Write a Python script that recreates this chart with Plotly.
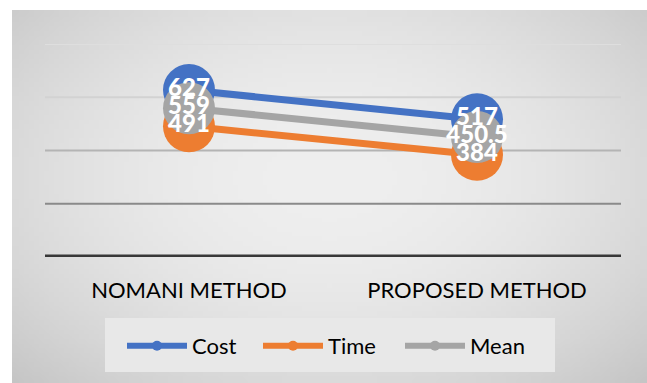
import plotly.graph_objects as go
import numpy as np
import zlib, struct, base64

categories = ["NOMANI METHOD", "PROPOSED METHOD"]
cost = [627, 517]
time_vals = [491, 384]
mean_vals = [559, 450.5]
series_names = ["Cost", "Time", "Mean"]
series_colors = ["#4472C4", "#ED7D31", "#A5A5A5"]
grid_vals = [0, 200, 400, 600, 800]
grid_colors = ["#383838", "#8a8a8a", "#b4b4b4", "#d2d2d2", "#dedede"]
grid_widths = [5, 2, 2, 2, 2]

W, H = 647, 383
ML, MT = 12, 10

def fx(px):
    return (px - ML) / (W - ML)

def fy(py):
    return (H - py) / (H - MT)

# --- radial grey gradient background as an embedded PNG ---
def make_png(arr):
    h, w = arr.shape
    raw = b"".join(b"\x00" + bytes(np.repeat(arr[r], 3).tolist()) for r in range(h))
    def chunk(t, d):
        c = struct.pack(">I", len(d)) + t + d
        return c + struct.pack(">I", zlib.crc32(t + d) & 0xffffffff)
    ihdr = struct.pack(">IIBBBBB", w, h, 8, 2, 0, 0, 0)
    data = b"\x89PNG\r\n\x1a\n" + chunk(b"IHDR", ihdr) + chunk(b"IDAT", zlib.compress(raw)) + chunk(b"IEND", b"")
    return "data:image/png;base64," + base64.b64encode(data).decode()

gw, gh = 128, 80
gx = (np.arange(gw) + 0.5) / gw
gy = (np.arange(gh) + 0.5) / gh
GX, GY = np.meshgrid(gx, gy)
d2 = (((GX - 0.5) / 0.5) ** 2 + ((GY - 0.45) / 0.55) ** 2) / 2
grad = np.clip(239 - 42 * d2, 0, 255).astype(np.uint8)
bg_src = make_png(grad)

fig = go.Figure()

for name, vals, col in zip(series_names, [cost, time_vals, mean_vals], series_colors):
    fig.add_trace(go.Scatter(
        x=categories, y=vals, name=name, mode="lines+markers",
        line=dict(color=col, width=7),
        marker=dict(color=col, size=52),
        showlegend=False, cliponaxis=False, hoverinfo="skip"))

for name, vals, col in zip(series_names, [cost, time_vals, mean_vals], series_colors):
    fig.add_trace(go.Scatter(
        x=categories, y=vals, mode="text",
        text=[f"{v:g}" for v in vals], textposition="middle center",
        textfont=dict(color="white", size=24, family="Lato Black, Lato, sans-serif"),
        showlegend=False, cliponaxis=False))

legend_ids = ["legend", "legend2", "legend3"]
legend_x = [122, 258, 400]
for name, col, lid in zip(series_names, series_colors, legend_ids):
    fig.add_trace(go.Scatter(
        x=[None], y=[None], name=name, mode="lines+markers",
        line=dict(color=col, width=6), marker=dict(color=col, size=10),
        showlegend=True, legend=lid))

shapes = []
for gv, gc, gwid in zip(grid_vals, grid_colors, grid_widths):
    shapes.append(dict(type="line", xref="x domain", yref="y", x0=0, x1=1,
                       y0=gv, y1=gv, line=dict(color=gc, width=gwid), layer="below"))
# legend box
shapes.append(dict(type="rect", xref="paper", yref="paper",
                   x0=fx(105), x1=fx(555), y0=fy(372), y1=fy(318),
                   fillcolor="#e8e8e8", line=dict(width=0), layer="below"))

legend_style = dict(orientation="h", yanchor="middle", xanchor="left",
                    bgcolor="rgba(0,0,0,0)", itemwidth=60,
                    font=dict(size=22, color="black", family="Lato, sans-serif"))
legends = {}
for lid, lx in zip(legend_ids, legend_x):
    legends[lid] = dict(legend_style, x=fx(lx), y=fy(346))

fig.update_layout(
    width=W, height=H,
    margin=dict(l=ML, r=0, t=MT, b=0),
    paper_bgcolor="white",
    plot_bgcolor="rgba(0,0,0,0)",
    images=[dict(source=bg_src, xref="paper", yref="paper", x=0, y=1,
                 sizex=1, sizey=1, sizing="stretch", layer="below",
                 xanchor="left", yanchor="top")],
    xaxis=dict(domain=[fx(45), fx(621)], range=[-0.5, 1.5], showgrid=False,
               showline=False, zeroline=False,
               ticks="", ticklabelstandoff=18,
               tickfont=dict(size=22, color="black", family="Lato, sans-serif")),
    yaxis=dict(domain=[fy(257), fy(44)], range=[0, 800], showgrid=False, zeroline=False,
               showticklabels=False, showline=False),
    shapes=shapes,
    showlegend=True,
    **legends,
)

fig.write_html("out.html")
